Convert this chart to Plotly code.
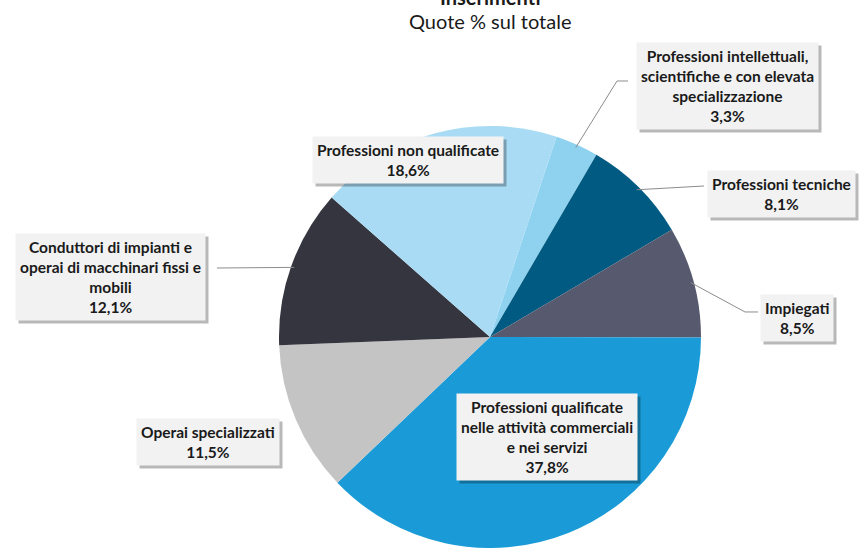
import math
import plotly.graph_objects as go

# ---- data ----
categories = [
    "Professioni intellettuali,<br>scientifiche e con elevata<br>specializzazione",
    "Professioni tecniche",
    "Impiegati",
    "Professioni qualificate<br>nelle attività commerciali<br>e nei servizi",
    "Operai specializzati",
    "Conduttori di impianti e<br>operai di macchinari fissi e<br>mobili",
    "Professioni non qualificate",
]
values = [3.3, 8.1, 8.5, 37.8, 11.5, 12.1, 18.6]
value_labels = ["3,3%", "8,1%", "8,5%", "37,8%", "11,5%", "12,1%", "18,6%"]
colors = ["#8fd2f0", "#005a82", "#575a6e", "#1a9bd7", "#c4c4c4", "#35353f", "#a9dcf4"]

# ---- layout ----
W, H = 859, 548
ROTATION = 18.4
FONT = "Lato"
LBL_SIZE = 15.5
PIE_CX, PIE_CY, PIE_R = 490, 338, 212  # window pixels (pie bottom just reaches the edge)

# label box centres (window pixels) and leader-line end points (window pixels, None = no line)
box_pos = [(727, 86), (781, 194), (797, 318), (547, 437), (208, 442), (111, 277), (408, 160)]
leader_end = [[(617, 81), (628, 81)], [(704, 186)], [(745, 312), (758, 312)], None, None, [(217, 268)], None]

DOM_X = [(PIE_CX - PIE_R) / W, (PIE_CX + PIE_R) / W]
DOM_Y = [max(0.0, 1 - (PIE_CY + PIE_R) / H), 1 - (PIE_CY - PIE_R) / H]

fig = go.Figure(go.Pie(
    labels=[c.replace("<br>", " ") for c in categories],
    values=values,
    sort=False,
    direction="clockwise",
    rotation=ROTATION,
    marker=dict(colors=colors, line=dict(width=0)),
    textinfo="none",
    domain=dict(x=DOM_X, y=DOM_Y),
    showlegend=False,
))

# actual pie centre / radius in window pixels
cx = (DOM_X[0] + DOM_X[1]) / 2 * W
cy = H - (DOM_Y[0] + DOM_Y[1]) / 2 * H
r = min((DOM_X[1] - DOM_X[0]) * W, (DOM_Y[1] - DOM_Y[0]) * H) / 2

def px2paper(x, y):
    return x / W, 1 - y / H

total = sum(values)
cum = 0.0
annotations = []
shapes = []
for i, v in enumerate(values):
    mid = ROTATION + (cum + v / 2) / total * 360
    cum += v
    xp, yp = px2paper(*box_pos[i])
    text = "<b>%s<br>%s</b>" % (categories[i], value_labels[i])
    common = dict(x=xp, y=yp, xref="paper", yref="paper", showarrow=False,
                  xanchor="center", yanchor="middle", borderpad=4)
    annotations.append(dict(common, text=text, xshift=3, yshift=-3,
                            font=dict(family=FONT, size=LBL_SIZE, color="rgba(0,0,0,0)"),
                            bgcolor="rgba(0,0,0,0.28)"))
    annotations.append(dict(common, text=text,
                            font=dict(family=FONT, size=LBL_SIZE, color="#1a1a1a"),
                            bgcolor="#f2f2f2"))
    if leader_end[i]:
        a = math.radians(mid)
        tx = cx + r * 0.985 * math.sin(a)
        ty = cy - r * 0.985 * math.cos(a)
        pts = [(tx, ty)] + leader_end[i]
        path = "M " + " L ".join("%.4f,%.4f" % px2paper(x, y) for x, y in pts)
        shapes.append(dict(type="path", xref="paper", yref="paper", path=path,
                           line=dict(color="#8c8c8c", width=1)))

annotations.append(dict(
    x=cx / W, y=px2paper(0, 11)[1], xref="paper", yref="paper", xanchor="center", yanchor="bottom",
    text="<b>Inserimenti</b>", showarrow=False,
    font=dict(family=FONT, size=20, color="#1a1a1a"),
))
annotations.append(dict(
    x=cx / W, y=px2paper(0, 21)[1], xref="paper", yref="paper", xanchor="center", yanchor="middle",
    text="Quote % sul totale", showarrow=False,
    font=dict(family=FONT, size=20, color="#1a1a1a"),
))

fig.update_layout(
    width=W, height=H,
    margin=dict(l=0, r=0, t=0, b=0),
    paper_bgcolor="white", plot_bgcolor="white",
    annotations=annotations, shapes=shapes,
)
fig.write_html("out.html", config={"displayModeBar": False},
               post_script="document.body.style.margin='0';")
